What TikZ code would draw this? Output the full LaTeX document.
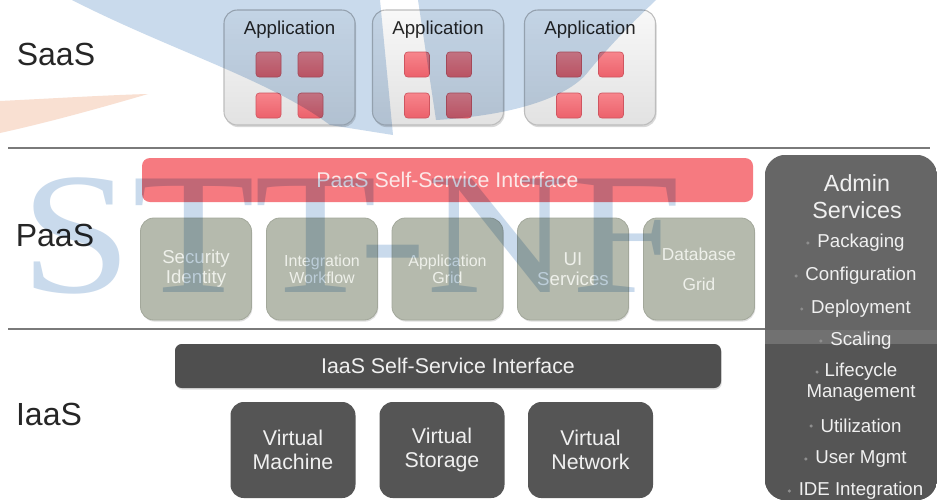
\documentclass[tikz,border=0pt]{standalone}
\usepackage{fontspec}
\setmainfont{Liberation Sans}
\newfontfamily\wmfont{Liberation Serif}
\usetikzlibrary{shadows,positioning}

\definecolor{labelc}{HTML}{262626}
\definecolor{sepc}{HTML}{7A7A7A}
\definecolor{appfillT}{HTML}{F8F8F8}
\definecolor{appfillB}{HTML}{E2E2E2}
\definecolor{appdraw}{HTML}{BDBDBD}
\definecolor{sqT}{HTML}{F7858C}
\definecolor{sqB}{HTML}{EC616B}
\definecolor{sqdraw}{HTML}{CF5560}
\definecolor{paasbarc}{HTML}{F67A80}
\definecolor{paastext}{HTML}{FCE8E8}
\definecolor{paasboxc}{HTML}{B5BAAD}
\definecolor{paasboxd}{HTML}{A3A89B}
\definecolor{paasboxtext}{HTML}{EEF0EA}
\definecolor{darkbar}{HTML}{4F4F4F}
\definecolor{darkbox}{HTML}{555555}
\definecolor{admintop}{HTML}{666666}
\definecolor{adminband}{HTML}{717171}
\definecolor{adminbot}{HTML}{555555}
\definecolor{lighttext}{HTML}{F0F0F0}
\definecolor{bulletc}{HTML}{8E8E8E}
\definecolor{wmblue}{HTML}{C9DAEC}
\definecolor{wmorange}{HTML}{F9E0D2}

\begin{document}
\begin{tikzpicture}[x=0.75pt,y=-0.75pt,
  sz/.style 2 args={minimum width=#1*0.75pt, minimum height=#2*0.75pt},
  tx/.style 2 args={font=\fontsize{#1}{#2}\selectfont},
  lbl/.style={tx={24}{28}, text=labelc, inner sep=0pt},
  appbox/.style={rounded corners=10pt, top color=appfillT, bottom color=appfillB,
    draw=appdraw, line width=0.8pt, sz={131}{115},
    drop shadow={shadow xshift=0.8pt, shadow yshift=-1.6pt, opacity=0.3}},
  apptext/.style={tx={14}{16}, text=labelc, inner sep=0pt},
  sq/.style={rounded corners=2.5pt, top color=sqT, bottom color=sqB, draw=sqdraw,
    line width=0.5pt, minimum size=18.75pt, inner sep=0pt},
  paasbar/.style={fill=paasbarc, rounded corners=6pt, sz={611}{44},
    text=paastext, tx={16}{18}},
  pbox/.style={fill=paasboxc, draw=paasboxd, line width=0.6pt, rounded corners=10pt,
    sz={111}{102}, align=center, text=paasboxtext, inner sep=0pt,
    drop shadow={shadow xshift=0.6pt, shadow yshift=-1.2pt, opacity=0.25}},
  iaasbar/.style={fill=darkbar, rounded corners=5pt, sz={546}{44},
    text=lighttext, tx={16}{18},
    drop shadow={shadow xshift=0.6pt, shadow yshift=-1.2pt, opacity=0.25}},
  ibox/.style={fill=darkbox, rounded corners=10pt, sz={125}{96}, align=center,
    text=lighttext, tx={16}{18}, inner sep=0pt},
  adtitle/.style={tx={17.5}{20.25}, text=lighttext, align=center, inner sep=0pt},
  aditem/.style={tx={14}{15.75}, text=lighttext, align=center, inner sep=0pt},
  bul/.style={circle, fill=bulletc, minimum size=2.6pt, inner sep=0pt, left=5.4pt of #1},
  sepline/.style={draw=sepc, line width=1.1pt}
]
% canvas
\fill[white] (0,0) rectangle (938,501);
\useasboundingbox (0,0) rectangle (938,501);

% orange swoosh (watermark)
\fill[wmorange] (0,101) .. controls (60,98) and (110,95) .. (148,94)
   .. controls (100,108) and (50,122) .. (0,133) -- cycle;

% separators
\coordinate (s1a) at (8,148);  \coordinate (s1b) at (930,148);
\coordinate (s2a) at (8,329);  \coordinate (s2b) at (766,329);
\draw[sepline] (s1a) -- (s1b);
\draw[sepline] (s2a) -- (s2b);

% layer labels
\node[lbl] (saas) at (56,54) {SaaS};
\node[lbl] (paas) at (55,235) {PaaS};
\node[lbl] (iaas) at (49,414) {IaaS};

% SaaS applications
\node[appbox] (app1) at (289.5,67.5) {};
\node[appbox] (app2) at (438,67.5) {};
\node[appbox] (app3) at (590,67.5) {};
\node[apptext] (app1t) at (289.5,30) {Application};
\node[apptext] (app2t) at (438,30) {Application};
\node[apptext] (app3t) at (590,30) {Application};
\foreach \b/\cx in {1/289.5,2/438,3/590}{
  \node[sq] (sq\b a) at (\cx-21,64.5) {};
  \node[sq] (sq\b b) at (\cx+21,64.5) {};
  \node[sq] (sq\b c) at (\cx-21,105.5) {};
  \node[sq] (sq\b d) at (\cx+21,105.5) {};
}

% PaaS
\node[paasbar] (pbar) at (447.5,180) {PaaS Self-Service Interface};
\node[pbox, tx={14}{15}] (p1) at (196,269) {Security\\Identity};
\node[pbox, tx={12}{13}] (p2) at (322,269) {Integration\\Workflow};
\node[pbox, tx={12}{13}] (p3) at (447.5,269) {Application\\Grid};
\node[pbox, tx={14}{15}] (p4) at (573,269) {UI\\Services};
\node[pbox, tx={13}{22.5}] (p5) at (699,269) {Database\\Grid};

% IaaS
\node[iaasbar] (ibar) at (448,366) {IaaS Self-Service Interface};
\node[ibox] (i1) at (293,450) {Virtual\\Machine};
\node[ibox] (i2) at (442,450) {Virtual\\Storage};
\node[ibox] (i3) at (590.5,450) {Virtual\\Network};

% Admin services
\node[sz={172}{345}, inner sep=0pt] (admin) at (851,327.5) {};
\begin{scope}
  \clip[rounded corners=16pt] (admin.north west) rectangle (admin.south east);
  \fill[admintop] (admin.north west) rectangle (admin.south east);
  \fill[adminband] (admin.north west |- 0,330) rectangle (admin.east |- 0,344);
  \fill[adminbot] (admin.north west |- 0,344) rectangle (admin.south east);
\end{scope}
\node[adtitle] (adt) at (857,196.5) {Admin\\Services};
\node[aditem] (a1) at (861,243) {Packaging};
\node[aditem] (a2) at (861,276) {Configuration};
\node[aditem] (a3) at (861,309) {Deployment};
\node[aditem] (a4) at (861,341) {Scaling};
\node[aditem] (a5) at (861,382.5) {Lifecycle\\Management};
\node[aditem] (a6) at (861,426) {Utilization};
\node[aditem] (a7) at (861,459) {User Mgmt};
\node[aditem] (a8) at (861,491) {IDE Integration};
\node[bul=a1] (b1) {};
\node[bul=a2] (b2) {};
\node[bul=a3] (b3) {};
\node[bul=a4] (b4) {};
\node[circle, fill=bulletc, minimum size=2.6pt, inner sep=0pt] (b5) at (817,372) {};
\node[bul=a6] (b6) {};
\node[bul=a7] (b7) {};
\node[bul=a8] (b8) {};

% blue watermark overlay
\begin{scope}[blend mode=multiply]
  \fill[wmblue] (72,0) .. controls (170,50) and (270,80) .. (330,125)
     -- (393,135) -- (380,0) -- cycle;
  \fill[wmblue] (418,0) -- (436,120) .. controls (520,115) and (570,95) .. (588,72)
     .. controls (610,45) and (635,20) .. (656,0) -- cycle;
  \node[anchor=base west, inner sep=0pt, text=wmblue, xscale=1.16,
        font=\wmfont\fontsize{130}{130}\selectfont] (wm) at (20,292) {STT-NF};
\end{scope}
\end{tikzpicture}
\end{document}
